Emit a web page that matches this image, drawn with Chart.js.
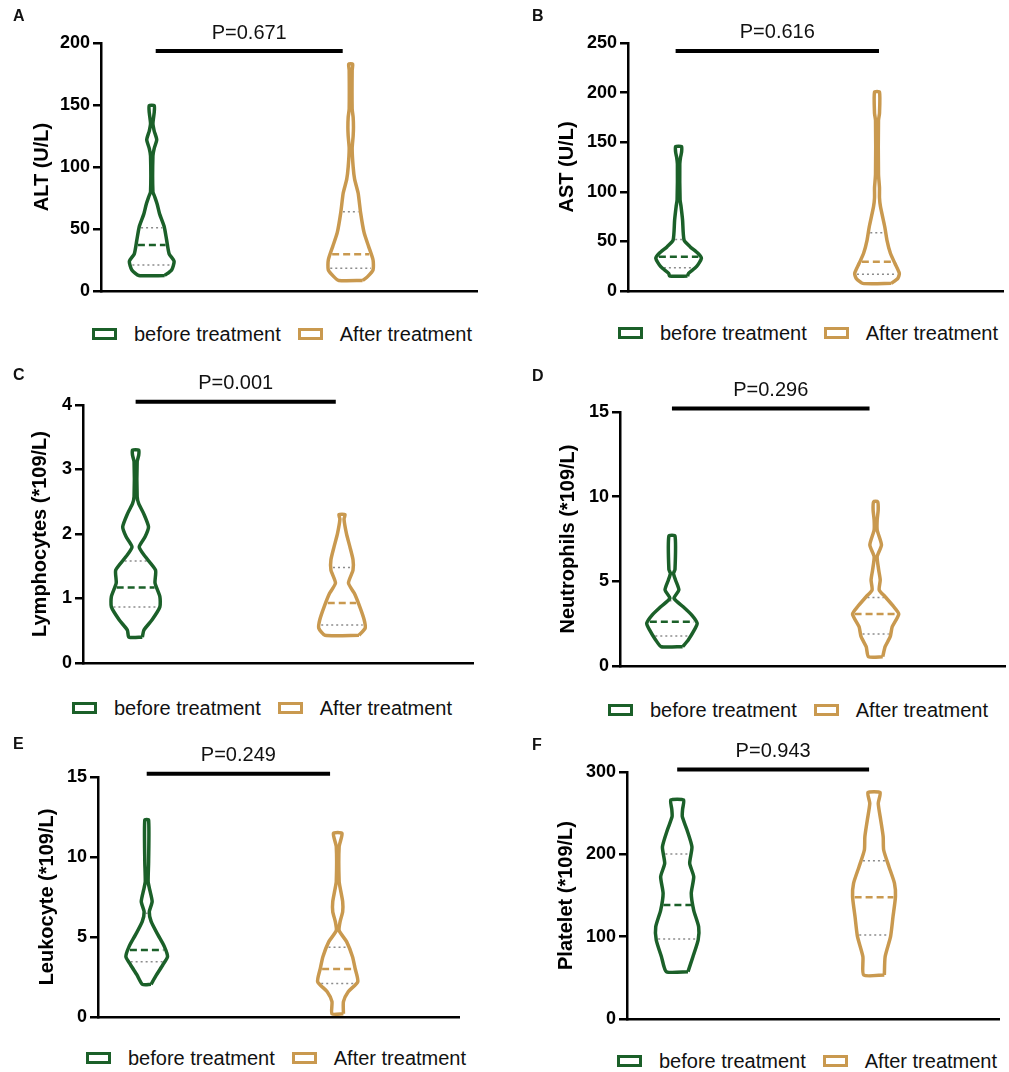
<!DOCTYPE html>
<html>
<head>
<meta charset="utf-8">
<script src="https://cdn.jsdelivr.net/npm/chart.js@4.4.0/dist/chart.umd.min.js"></script>
<style>
  body { margin: 0; background: #fff; overflow: hidden; }
  #wrap { position: relative; width: 1009px; height: 1072px; }
  #wrap canvas { position: absolute; }
  .legend { position: absolute; display: flex; align-items: center; height: 24px; white-space: nowrap;
            font: 20px "Liberation Sans", Arial, Helvetica, sans-serif; color: #111; }
  .legend .sw { box-sizing: border-box; width: 25px; height: 12px; border: 3px solid; margin-right: 17px; }
  .legend .lt { margin-right: 17px; }
</style>
</head>
<body>
<div id="wrap"></div>
<script>
// ---- data ----
const groups = ['before treatment', 'After treatment'];
const panelLetters = ['A', 'B', 'C', 'D', 'E', 'F'];
const panelTitles = ['ALT (U/L)', 'AST (U/L)', 'Lymphocytes (*109/L)', 'Neutrophils (*109/L)', 'Leukocyte (*109/L)', 'Platelet (*109/L)'];
const pValues = ['P=0.671', 'P=0.616', 'P=0.001', 'P=0.296', 'P=0.249', 'P=0.943'];
const yMax = [200, 250, 4, 15, 15, 300];
const yStep = [50, 50, 1, 5, 5, 100];
const sigY = [193.5, 242, 4.05, 15.2, 15.2, 303];
const sigX = [[1.02, 1.96], [0.985, 2.01], [1.0, 1.97], [1.0, 1.97], [1.0, 1.96], [1.0, 1.975]];

// violin outlines: [value, half width (density)], bottom to top
const altBefore = [[12.5,13],[17,20],[24,22.5],[30,17.5],[41,15],[52,12.5],[62,8],[70,5.5],[76,3],[80,1.2],[109,1.2],[115,2.5],[122,5],[129,2.5],[135,1.2],[144,2.5],[149.5,2.5]];
const altAfter = [[8.5,12],[11.6,17],[17,22.5],[25,22.5],[36,18],[47,13.5],[63,10],[79,7.5],[90,4],[100,2.5],[115,1.5],[125,2.5],[132,2.8],[140,2.5],[147,1.5],[178,1.5],[183,2]];
const astBefore = [[15,9],[17.8,10],[24.5,18],[33,23],[38,19.5],[44.7,11.5],[51.4,5.5],[71.6,4],[85,2.5],[92,1.5],[128,1.2],[135,2],[140,3],[145.5,3]];
const astAfter = [[7.7,14.5],[12.8,21],[17.8,22.5],[27.9,18],[38,13.5],[51.4,10],[64.8,7.8],[85,3.5],[94,2.5],[104,2.5],[118,1.5],[172,1.5],[179,2.5],[200.5,2.5]];
const lymBefore = [[0.40,6.5],[0.51,8],[0.67,16],[0.87,23.5],[1.03,23.5],[1.24,18.8],[1.44,19.3],[1.65,9.3],[1.80,3.5],[1.96,9.3],[2.11,12.5],[2.32,7.7],[2.47,3],[2.58,1.5],[3.12,1.5],[3.22,3],[3.30,3]];
const lymAfter = [[0.43,16.5],[0.54,22.5],[0.67,21.5],[0.87,17.3],[1.08,12],[1.24,6.3],[1.44,10.7],[1.60,10.7],[1.80,7.7],[2.01,4.3],[2.23,2],[2.30,3]];
const neuBefore = [[1.14,10.5],[1.54,16],[2.13,22],[2.52,24.8],[3.01,19.5],[3.5,11],[4.0,2],[4.49,6.8],[5.08,3.5],[5.47,1.5],[5.7,3],[7.68,3]];
const neuAfter = [[0.55,7],[1.14,9.3],[1.73,14.3],[2.32,16.3],[3.07,22.7],[3.5,17.8],[4.09,9.3],[4.49,3.5],[5.08,4.5],[5.67,3],[6.46,1.5],[7.15,5.7],[8.03,1.5],[8.63,1.5],[9.21,2.5],[9.70,2]];
const leuBefore = [[2.04,4.5],[2.63,10.2],[3.25,16.8],[3.77,21.8],[4.40,18.5],[5.13,11.8],[5.96,4.7],[6.58,2.7],[7.21,5.7],[7.94,3.2],[8.46,1.5],[9.71,2],[12.31,2]];
const leuAfter = [[0.2,6],[0.96,6],[1.58,11],[2.21,21],[3.04,18.2],[3.77,15.5],[4.71,9.3],[5.4,1.5],[5.96,2.5],[6.58,5.2],[7.21,5.2],[7.94,3],[8.46,1.5],[10.65,1.5],[11.48,4.5]];
const pltBefore = [[57.5,11],[75.7,16],[96,21.3],[112,21.8],[132,16.8],[152.7,14.3],[172.8,16.8],[189,12.7],[209,15],[229.6,10],[245.7,5.2],[255,5.5],[266,6.5]];
const pltAfter = [[53.4,10.5],[75.7,11.3],[100,16.8],[124.3,19.3],[148.6,21.8],[164.8,20.8],[185,15.2],[205.3,9.8],[221.4,9.3],[241.7,6.8],[262,4.3],[275,6.2]];

// quartiles [Q1, median, Q3]
const altQuart = [[21, 37, 51], [18.3, 29.6, 64]];
const astQuart = [[23.5, 34.6, 52], [16.8, 29.5, 58.8]];
const lymQuart = [[0.87, 1.17, 1.58], [0.59, 0.93, 1.48]];
const neuQuart = [[1.77, 2.62, 3.86], [1.89, 3.07, 4.04]];
const leuQuart = [[3.46, 4.19, 6.48], [2.1, 3.0, 4.36]];
const pltQuart = [[97.2, 138.5, 200.4], [102, 147.8, 192.3]];

const profiles = [[altBefore, altAfter], [astBefore, astAfter], [lymBefore, lymAfter], [neuBefore, neuAfter], [leuBefore, leuAfter], [pltBefore, pltAfter]];
const quartiles = [altQuart, astQuart, lymQuart, neuQuart, leuQuart, pltQuart];

// ---- layout / style ----
const colors = ['#1b6029', '#c9994f'];
const FONT = '"Liberation Sans", Arial, Helvetica, sans-serif';
const unitPx = 200;   // density -> x units
const xH = 12;
const layout = [
  {x: 0,   y: 0,   w: 500, area: {l: 101, t: 43, r: 477, b: 291}, yW: 71, letter: [13, 17], leg: [92, 334]},
  {x: 500, y: 0,   w: 509, area: {l: 128, t: 43, r: 503, b: 291}, yW: 73, letter: [32, 17], leg: [618, 333]},
  {x: 0,   y: 360, w: 500, area: {l: 83,  t: 45, r: 473, b: 303}, yW: 55, letter: [13, 16], leg: [72, 708]},
  {x: 500, y: 360, w: 509, area: {l: 120, t: 52, r: 505, b: 306}, yW: 64, letter: [32, 17], leg: [608, 710]},
  {x: 0,   y: 720, w: 500, area: {l: 98,  t: 57, r: 459, b: 297}, yW: 63, letter: [13, 25], leg: [86, 1058]},
  {x: 500, y: 720, w: 509, area: {l: 127, t: 52, r: 499, b: 299}, yW: 73, letter: [32, 26], leg: [617, 1061]}
];

function outline(profile, cx) {
  const right = profile.map(([v, w]) => ({x: cx + w / unitPx, y: v}));
  const left = profile.slice().reverse().map(([v, w]) => ({x: cx - w / unitPx, y: v}));
  return right.concat(left, [right[0]]);
}

function halfAt(profile, v) {
  for (let i = 0; i < profile.length - 1; i++) {
    const [v0, w0] = profile[i], [v1, w1] = profile[i + 1];
    if (v >= v0 && v <= v1) return w0 + (w1 - w0) * (v - v0) / (v1 - v0);
  }
  return 0;
}

const panelText = {
  id: 'panelText',
  afterDatasetsDraw(chart, args, opts) {
    const meta = chart.getDatasetMeta(opts.sigIndex);
    const a = meta.data[0], b = meta.data[1];
    const ctx = chart.ctx;
    ctx.save();
    ctx.fillStyle = '#111';
    ctx.font = '20px ' + FONT;
    ctx.textAlign = 'center';
    ctx.textBaseline = 'middle';
    ctx.fillText(opts.p, (a.x + b.x) / 2, a.y - 18);
    ctx.font = 'bold 16px ' + FONT;
    ctx.textAlign = 'left';
    ctx.fillText(opts.letter, opts.lx, opts.ly);
    ctx.restore();
  }
};

// legend built from the chart's own legend items
const htmlLegend = {
  id: 'htmlLegend',
  afterUpdate(chart, args, opts) {
    const box = opts.el;
    box.innerHTML = '';
    const items = Chart.defaults.plugins.legend.labels.generateLabels(chart).filter(it => it.datasetIndex < 2);
    items.forEach(it => {
      const sw = document.createElement('span');
      sw.className = 'sw';
      sw.style.borderColor = it.strokeStyle;
      sw.style.background = '#fff';
      const tx = document.createElement('span');
      tx.className = 'lt';
      tx.textContent = it.text;
      box.appendChild(sw);
      box.appendChild(tx);
    });
  }
};

const wrap = document.getElementById('wrap');

layout.forEach((L, i) => {
  const h = L.area.b + xH + 2;
  const canvas = document.createElement('canvas');
  canvas.width = L.w;
  canvas.height = h;
  canvas.style.left = L.x + 'px';
  canvas.style.top = L.y + 'px';
  canvas.style.width = L.w + 'px';
  canvas.style.height = h + 'px';
  wrap.appendChild(canvas);

  const leg = document.createElement('div');
  leg.className = 'legend';
  leg.style.left = L.leg[0] + 'px';
  leg.style.top = (L.leg[1] - 12) + 'px';
  wrap.appendChild(leg);

  const datasets = [];
  profiles[i].forEach((prof, g) => {
    datasets.push({
      label: groups[g],
      data: outline(prof, g + 1),
      borderColor: colors[g],
      backgroundColor: '#fff',
      borderWidth: 3.5,
      borderJoinStyle: 'round',
      tension: 0.2,
      pointRadius: 0,
      showLine: true
    });
  });
  profiles[i].forEach((prof, g) => {
    quartiles[i][g].forEach((q, k) => {
      const hw = Math.max(halfAt(prof, q) - 2, 0) / unitPx;
      const isMed = k === 1;
      datasets.push({
        label: 'q',
        data: [{x: g + 1 - hw, y: q}, {x: g + 1 + hw, y: q}],
        borderColor: isMed ? colors[g] : '#8c8c8c',
        borderWidth: isMed ? 2.5 : 1.5,
        borderDash: isMed ? [7, 4] : [2, 3],
        pointRadius: 0,
        showLine: true
      });
    });
  });
  const sigIndex = datasets.length;
  datasets.push({
    label: 'sig',
    data: [{x: sigX[i][0], y: sigY[i]}, {x: sigX[i][1], y: sigY[i]}],
    borderColor: '#000',
    borderWidth: 4,
    pointRadius: 0,
    showLine: true,
    clip: false
  });

  new Chart(canvas, {
    type: 'scatter',
    data: {datasets},
    plugins: [panelText, htmlLegend],
    options: {
      responsive: false,
      animation: false,
      devicePixelRatio: 1,
      layout: {
        padding: {left: L.area.l - L.yW, top: L.area.t, right: L.w - L.area.r, bottom: 2}
      },
      scales: {
        x: {
          type: 'linear',
          min: 0.745,
          max: 2.635,
          ticks: {display: false},
          grid: {display: false},
          border: {display: true, color: '#000', width: 2.5},
          afterFit: (s) => { s.height = xH; }
        },
        y: {
          min: 0,
          max: yMax[i],
          ticks: {stepSize: yStep[i], color: '#000', padding: 3, font: {family: FONT, size: 18, weight: 'bold'}},
          grid: {display: true, drawOnChartArea: false, drawTicks: true, tickLength: 8, color: '#000', lineWidth: 2.5},
          border: {display: true, color: '#000', width: 2.5},
          title: {display: true, text: panelTitles[i], color: '#000', padding: {top: 0, bottom: 0}, font: {family: FONT, size: 20, weight: 'bold'}},
          afterFit: (s) => { s.width = L.yW; }
        }
      },
      plugins: {
        legend: {display: false},
        tooltip: {enabled: false},
        htmlLegend: {el: leg},
        panelText: {sigIndex, p: pValues[i], letter: panelLetters[i], lx: L.letter[0], ly: L.letter[1]}
      }
    }
  });
});
</script>
</body>
</html>
